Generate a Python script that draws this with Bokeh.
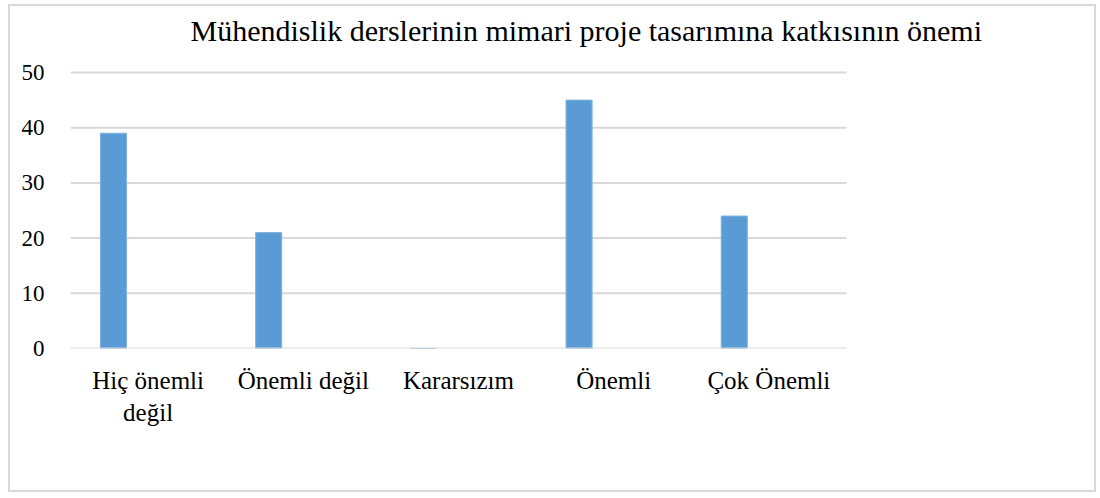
from bokeh.plotting import figure
from bokeh.models import Range1d, FixedTicker, Label
from bokeh.transform import dodge
from bokeh.embed import file_html
from bokeh.resources import INLINE

categories = ["Hiç önemli\ndeğil", "Önemli değil", "Kararsızım", "Önemli", "Çok Önemli"]
values = [39, 21, 0, 45, 24]
y_ticks = [0, 10, 20, 30, 40, 50]
title_text = "Mühendislik derslerinin mimari proje tasarımına  katkısının önemi"

FONT = "Liberation Serif"
GRID = "#d9d9d9"
BAR = "#5b9bd5"

n = len(categories)
xpos = list(range(1, n + 1))

# frame spans the whole canvas above the axis so the title label is not clipped;
# gridlines are drawn only over the category area
p = figure(x_range=Range1d(0.5, 0.5 + 6.624), y_range=Range1d(0, 61.96),
           width=1088, height=488, output_backend="svg", toolbar_location=None,
           min_border_left=60, min_border_right=0, min_border_top=0, min_border_bottom=146)
p.styles = {"border": "2px solid #d9d9d9", "margin-left": "8px", "margin-top": "4px"}
p.outline_line_color = None

grid_y = y_ticks[1:]
p.segment(x0=0.5, x1=n + 0.5, y0=grid_y, y1=grid_y, line_color=GRID, line_width=2)

p.vbar(x=dodge("x", -0.223), top="top", width=0.168,
       source=dict(x=xpos, top=values), fill_color=BAR, line_color="#7fb2e0", line_width=1)

# category axis line (zero line) drawn over the bar bases
p.segment(x0=0.5, x1=n + 0.5, y0=y_ticks[0], y1=y_ticks[0], line_color=GRID, line_width=2)

title = Label(x=0.5 + 0.773, y=57.6, text=title_text,
              text_font=FONT, text_font_size="30px", text_color="#000000",
              text_align="left", text_baseline="middle")
p.add_layout(title)

p.yaxis.ticker = FixedTicker(ticks=y_ticks)
p.yaxis.axis_line_color = None
p.yaxis.major_tick_line_color = None
p.yaxis.minor_tick_line_color = None
p.yaxis.major_label_text_font = FONT
p.yaxis.major_label_text_font_size = "23px"
p.yaxis.major_label_text_color = "#000000"
p.yaxis.major_label_standoff = 20

p.xaxis.ticker = FixedTicker(ticks=xpos)
p.xaxis.major_label_overrides = {x: c for x, c in zip(xpos, categories)}
p.xaxis.axis_line_color = None
p.xaxis.major_tick_line_color = None
p.xaxis.minor_tick_line_color = None
p.xaxis.major_label_text_font = FONT
p.xaxis.major_label_text_font_size = "25px"
p.xaxis.major_label_text_color = "#000000"
p.xaxis.major_label_standoff = 12

p.xgrid.grid_line_color = None
p.ygrid.grid_line_color = None

open("out.html", "w").write(file_html(p, INLINE))
